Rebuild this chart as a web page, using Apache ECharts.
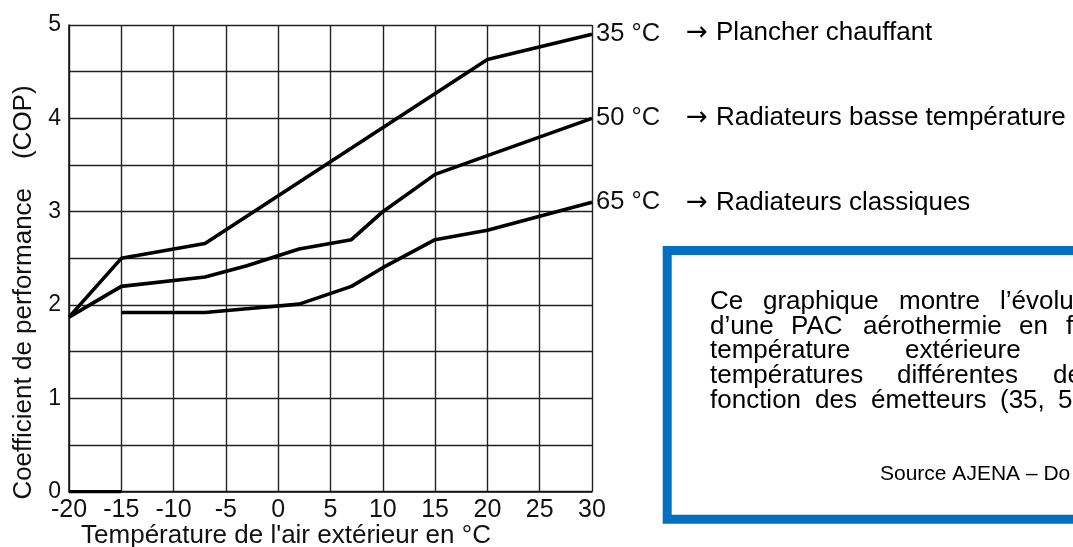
<!DOCTYPE html>
<html>
<head>
<meta charset="utf-8">
<script src="https://cdn.jsdelivr.net/npm/echarts@6/dist/echarts.min.js"></script>
<style>
html,body{margin:0;padding:0;background:#fff;}
#chart{width:1073px;height:547px;}
</style>
</head>
<body>
<div id="chart"></div>
<script>
// ---- data ----
const xTicks = [-20, -15, -10, -5, 0, 5, 10, 15, 20, 25, 30];
const yTicks = [0, 1, 2, 3, 4, 5];

const xs35 = [-20, -15, -7, 20, 30];
const cop35 = [1.87, 2.5, 2.66, 4.63, 4.9];

const xs50 = [-20, -15, -7, -3, 2, 7, 10, 15, 20, 30];
const cop50 = [1.87, 2.2, 2.3, 2.42, 2.6, 2.7, 3.0, 3.4, 3.6, 4.0];

const xs65 = [-15, -7, -3, 2, 7, 10, 15, 20, 30];
const cop65 = [1.92, 1.92, 1.96, 2.01, 2.2, 2.4, 2.7, 2.8, 3.1];

const xsBase = [-20, -15];
const copBase = [0, 0];

const seriesNames = ['35 °C', '50 °C', '65 °C'];
const emitters = ['Plancher chauffant', 'Radiateurs basse température', 'Radiateurs classiques'];

const xAxisName = "Température de l'air extérieur en °C";
const yAxisName = 'Coefficient de performance    (COP)';

const boxLines = [
  ['Ce', 'graphique', 'montre', 'l’évolution'],
  ['d’une', 'PAC', 'aérothermie', 'en', 'fonction'],
  ['température', 'extérieure'],
  ['températures', 'différentes', 'de'],
  ['fonction', 'des', 'émetteurs', '(35,', '50']
];
const sourceText = 'Source AJENA – Do';

// ---- layout / style ----
const FONT = '"Liberation Sans", Arial, sans-serif';
const zip = (xs, ys) => xs.map((x, i) => [x, ys[i]]);

const wordX = [
  [710, 763, 899, 1000],
  [710, 791, 863, 1019, 1066],
  [710, 905],
  [710, 897, 1053],
  [710, 815, 871, 1000, 1058]
];
const lineMid = [301.5, 326.5, 350.5, 375.5, 400.5];
const arrowMid = [33, 118, 203];

const chart = echarts.init(document.getElementById('chart'), null, {renderer: 'canvas'});

const lineStyle = {color: '#000', width: 3.6};
function mkSeries(name, xs, ys, label) {
  return {
    name: name,
    type: 'line',
    data: zip(xs, ys),
    showSymbol: false,
    symbol: 'none',
    smooth: false,
    lineStyle: lineStyle,
    silent: true,
    animation: false,
    endLabel: label ? {
      show: true,
      formatter: label,
      color: '#111',
      fontFamily: FONT,
      fontSize: 25.5,
      distance: 4
    } : {show: false}
  };
}

const graphics = [];
// box
graphics.push({
  type: 'rect',
  shape: {x: 667.2, y: 250.5, width: 600, height: 268.7},
  style: {fill: '#fff', stroke: '#0070C0', lineWidth: 9},
  z: 10
});
boxLines.forEach((words, li) => {
  words.forEach((w, wi) => {
    graphics.push({
      type: 'text',
      x: wordX[li][wi],
      y: lineMid[li],
      style: {text: w, font: '26px ' + FONT, fill: '#000', textAlign: 'left', textVerticalAlign: 'middle'},
      z: 11
    });
  });
});
graphics.push({
  type: 'text', x: 880, y: 474,
  style: {text: sourceText, font: '21px ' + FONT, fill: '#000', textAlign: 'left', textVerticalAlign: 'middle'},
  z: 11
});
// emitter annotations
emitters.forEach((t, i) => {
  graphics.push({
    type: 'text', x: 697, y: arrowMid[i],
    style: {text: '→', font: '26px "DejaVu Sans", sans-serif', fill: '#000', textAlign: 'center', textVerticalAlign: 'middle'},
    z: 11
  });
  graphics.push({
    type: 'text', x: 716, y: arrowMid[i],
    style: {text: t, font: '26px ' + FONT, fill: '#000', textAlign: 'left', textVerticalAlign: 'middle'},
    z: 11
  });
});
// axis names
graphics.push({
  type: 'text', x: 286, y: 536,
  style: {text: xAxisName, font: '26px ' + FONT, fill: '#111', textAlign: 'center', textVerticalAlign: 'middle'},
  z: 11
});
graphics.push({
  type: 'text', x: 24, y: 292.5, rotation: Math.PI / 2,
  style: {text: yAxisName, font: '26px ' + FONT, fill: '#111', textAlign: 'center', textVerticalAlign: 'middle'},
  z: 11
});

const option = {
  animation: false,
  backgroundColor: '#fff',
  grid: {left: 69, right: 1073 - 592, top: 25, bottom: 547 - 491.7, containLabel: false},
  xAxis: {
    type: 'value',
    min: xTicks[0],
    max: xTicks[xTicks.length - 1],
    interval: 5,
    axisLine: {show: true, onZero: false, lineStyle: {color: '#111', width: 1.5}},
    axisTick: {show: false},
    axisLabel: {
      color: '#111', fontFamily: FONT, fontSize: 25, margin: 6,
      formatter: v => (xTicks.indexOf(v) >= 0 ? String(v) : '')
    },
    splitLine: {show: true, lineStyle: {color: '#222', width: 1.4}}
  },
  yAxis: {
    type: 'value',
    min: yTicks[0],
    max: yTicks[yTicks.length - 1],
    interval: 0.5,
    axisLine: {show: true, onZero: false, lineStyle: {color: '#111', width: 1.5}},
    axisTick: {show: false},
    axisLabel: {
      color: '#111', fontFamily: FONT, fontSize: 23, margin: 8,
      formatter: v => (yTicks.indexOf(v) >= 0 ? String(v) : '')
    },
    splitLine: {show: true, lineStyle: {color: '#222', width: 1.4}}
  },
  series: [
    mkSeries(seriesNames[0], xs35, cop35, seriesNames[0]),
    mkSeries(seriesNames[1], xs50, cop50, seriesNames[1]),
    mkSeries(seriesNames[2], xs65, cop65, seriesNames[2]),
    mkSeries('base', xsBase, copBase, null)
  ],
  graphic: graphics
};
chart.setOption(option);
</script>
</body>
</html>
